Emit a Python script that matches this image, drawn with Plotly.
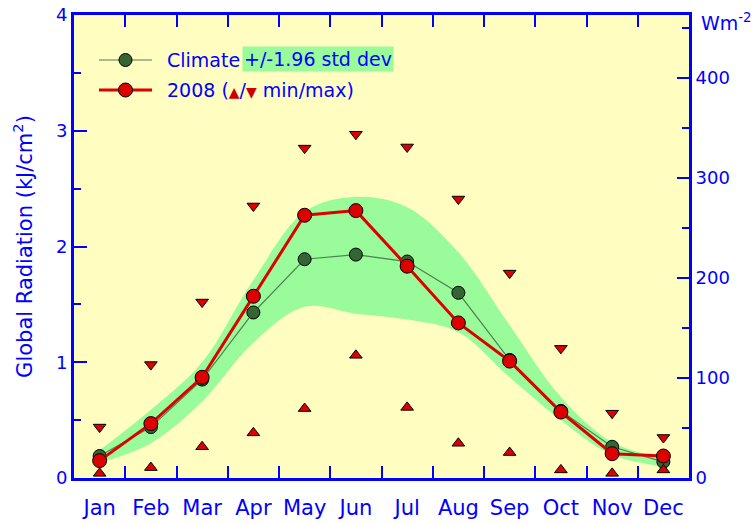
import plotly.graph_objects as go

# Monthly global radiation, kJ/cm2 per day
months = ["Jan", "Feb", "Mar", "Apr", "May", "Jun", "Jul", "Aug", "Sep", "Oct", "Nov", "Dec"]
month_num = list(range(1, 13))

climate_mean = [0.19, 0.44, 0.85, 1.43, 1.89, 1.93, 1.87, 1.60, 1.02, 0.58, 0.27, 0.14]
climate_hi = [0.24, 0.59, 1.00, 1.71, 2.30, 2.43, 2.34, 1.95, 1.32, 0.70, 0.31, 0.17]
climate_lo = [0.13, 0.30, 0.66, 1.17, 1.48, 1.42, 1.37, 1.26, 0.87, 0.50, 0.20, 0.10]

y2008_mean = [0.15, 0.47, 0.87, 1.57, 2.27, 2.31, 1.83, 1.34, 1.01, 0.57, 0.21, 0.19]
y2008_max = [0.44, 0.98, 1.52, 2.35, 2.85, 2.97, 2.86, 2.41, 1.77, 1.12, 0.56, 0.35]
y2008_min = [0.04, 0.09, 0.27, 0.39, 0.60, 1.06, 0.61, 0.30, 0.22, 0.07, 0.04, 0.07]

left_ticks = [0, 1, 2, 3, 4]
right_ticks = [0, 100, 200, 300, 400]
month_edges = [m + 0.5 for m in month_num[:-1]]

# 1 kJ/cm2 per day expressed in W/m2
KJ_TO_WM2 = 1e7 / 86400.0

BLUE = "#0000ff"
FONT = "DejaVu Sans"
BAND = "#99fb99"
GREEN_DOT = "#336633"
GREEN_LINE = "#4f7f4f"
RED = "#dd0000"

fig = go.Figure()

# +/-1.96 std dev band
fig.add_trace(go.Scatter(x=month_num, y=climate_lo, mode="lines",
                         line=dict(width=0, shape="spline", smoothing=1.0, color=BAND),
                         hoverinfo="skip", showlegend=False))
fig.add_trace(go.Scatter(x=month_num, y=climate_hi, mode="lines", fill="tonexty",
                         fillcolor=BAND,
                         line=dict(width=0, shape="spline", smoothing=1.0, color=BAND),
                         hoverinfo="skip", showlegend=False))

# climate mean
fig.add_trace(go.Scatter(x=month_num, y=climate_mean, mode="lines+markers",
                         line=dict(color=GREEN_LINE, width=1.2),
                         marker=dict(size=13, color=GREEN_DOT, line=dict(color="black", width=1)),
                         showlegend=False))
# 2008
fig.add_trace(go.Scatter(x=month_num, y=y2008_mean, mode="lines+markers",
                         line=dict(color=RED, width=3),
                         marker=dict(size=14, color=RED, line=dict(color="black", width=1)),
                         showlegend=False))
fig.add_trace(go.Scatter(x=month_num, y=y2008_max, mode="markers",
                         marker=dict(symbol="triangle-down", size=11, color=RED,
                                     line=dict(color="black", width=1)),
                         showlegend=False))
fig.add_trace(go.Scatter(x=month_num, y=y2008_min, mode="markers",
                         marker=dict(symbol="triangle-up", size=11, color=RED,
                                     line=dict(color="black", width=1)),
                         showlegend=False))

# same series in W/m2 on the month-label / right-hand axes so both get drawn
fig.add_trace(go.Scatter(x=month_num, y=[v * KJ_TO_WM2 for v in climate_mean],
                         xaxis="x2", yaxis="y2",
                         mode="lines", line=dict(width=0), opacity=0,
                         hoverinfo="skip", showlegend=False))

# hand-made legend (paper coordinates)
x0_plot, x1_plot, y0_plot, y1_plot = 74, 689, 478, 15
def px(xp):
    return (xp - x0_plot) / (x1_plot - x0_plot)
def py(yp):
    return (y0_plot - yp) / (y0_plot - y1_plot)

shapes = []
annotations = []
legend_rows = [(60, GREEN_LINE, 1.2, GREEN_DOT, 13), (90, RED, 3, RED, 14)]
for ypix, lc, lw, mc, ms in legend_rows:
    shapes.append(dict(type="line", xref="paper", yref="paper",
                       x0=px(99), x1=px(152), y0=py(ypix), y1=py(ypix),
                       line=dict(color=lc, width=lw)))
    shapes.append(dict(type="circle", xref="paper", yref="paper",
                       xsizemode="pixel", ysizemode="pixel",
                       xanchor=px(125.5), yanchor=py(ypix),
                       x0=-ms / 2, x1=ms / 2, y0=-ms / 2, y1=ms / 2,
                       fillcolor=mc, line=dict(color="black", width=1)))

annotations.append(dict(xref="paper", yref="paper", x=px(165), y=py(60),
                        xanchor="left", yanchor="middle", showarrow=False,
                        text="Climate", font=dict(family=FONT, size=19, color=BLUE)))
annotations.append(dict(xref="paper", yref="paper", x=px(242), y=py(59),
                        xanchor="left", yanchor="middle", showarrow=False,
                        text="+/-1.96 std dev", bgcolor=BAND, borderpad=1,
                        font=dict(family=FONT, size=19, color=BLUE)))
annotations.append(dict(xref="paper", yref="paper", x=px(165), y=py(90),
                        xanchor="left", yanchor="middle", showarrow=False,
                        text="2008 (<span style='color:#cc0000;font-size:14px'>▲</span>/"
                             "<span style='color:#cc0000;font-size:14px'>▼</span> min/max)",
                        font=dict(family=FONT, size=19, color=BLUE)))
annotations.append(dict(xref="paper", yref="paper", x=px(699), y=py(22),
                        xanchor="left", yanchor="middle", showarrow=False,
                        text="Wm<sup>-2</sup>", font=dict(family=FONT, size=19, color=BLUE)))

fig.update_layout(
    width=753, height=524,
    margin=dict(l=74, r=64, t=15, b=46),
    paper_bgcolor="white",
    plot_bgcolor="#fffdbf",
    showlegend=False,
    font=dict(family=FONT, color=BLUE),
    shapes=shapes,
    annotations=annotations,
    # frame with tick marks between months, bottom and top
    xaxis=dict(
        range=[0.5, 12.5], tickmode="array", tickvals=month_edges,
        ticktext=["" for _ in month_edges], showticklabels=False,
        ticks="inside", ticklen=12, tickwidth=2, tickcolor=BLUE,
        showgrid=False, zeroline=False, automargin=False,
        showline=True, linecolor=BLUE, linewidth=3, mirror="ticks",
    ),
    # month names centred on each month
    xaxis2=dict(
        overlaying="x", side="bottom", anchor="y",
        range=[0.5, 12.5], tickmode="array", tickvals=month_num, ticktext=months,
        ticks="", showgrid=False, zeroline=False, showline=False,
        ticklabelstandoff=15, automargin=False,
        tickfont=dict(family=FONT, size=21, color=BLUE),
    ),
    yaxis=dict(
        range=[0, 4], tickmode="array", tickvals=left_ticks,
        ticks="inside", ticklen=13, tickwidth=2, tickcolor=BLUE,
        showgrid=False, zeroline=False, automargin=False,
        showline=True, linecolor=BLUE, linewidth=3,
        tickfont=dict(family=FONT, size=18, color=BLUE),
        minor=dict(dtick=0.5, ticks="inside", ticklen=7, tickwidth=2, tickcolor=BLUE, showgrid=False),
        title=dict(text="Global Radiation (kJ/cm<sup>2</sup>)",
                   font=dict(family=FONT, size=21, color=BLUE), standoff=18),
    ),
    yaxis2=dict(
        overlaying="y", side="right", anchor="x2",
        range=[0, 4 * KJ_TO_WM2], tickmode="array", tickvals=right_ticks,
        ticks="inside", ticklen=12, tickwidth=2, tickcolor=BLUE,
        showgrid=False, zeroline=False, automargin=False,
        showline=True, linecolor=BLUE, linewidth=3,
        tickfont=dict(family=FONT, size=18, color=BLUE),
        minor=dict(dtick=50, ticks="inside", ticklen=7, tickwidth=2, tickcolor=BLUE, showgrid=False),
    ),
)

fig.write_html("out.html")
